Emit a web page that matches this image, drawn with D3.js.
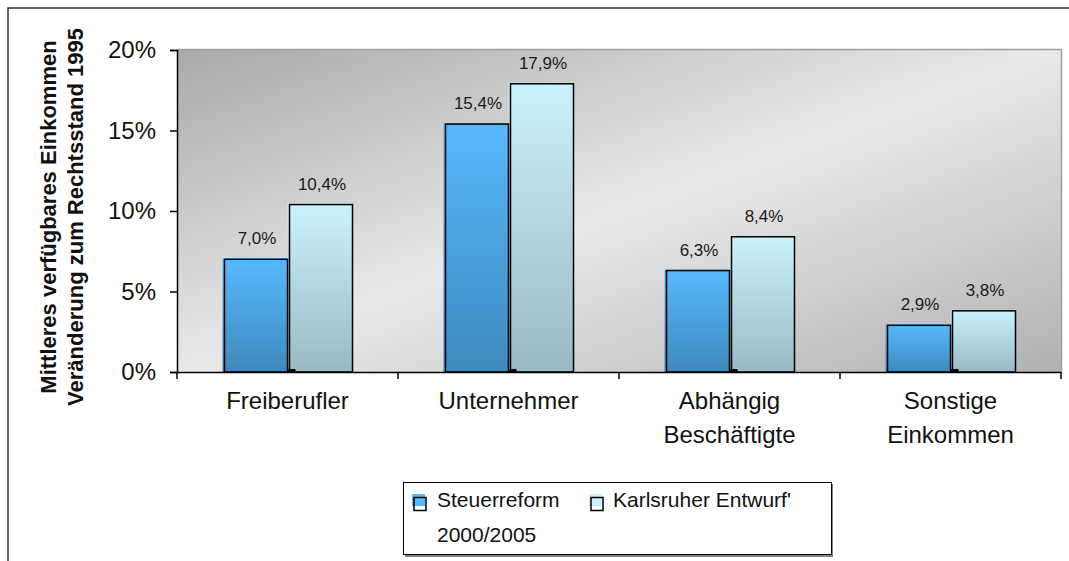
<!DOCTYPE html>
<html>
<head>
<meta charset="utf-8">
<script src="https://cdn.jsdelivr.net/npm/d3@7"></script>
<style>
body { margin: 0; background: #fff; }
svg { display: block; font-family: "Liberation Sans", Arial, sans-serif; }
</style>
</head>
<body>
<svg id="chart" width="1069" height="561"></svg>
<script>
// values
var categories = [["Freiberufler"], ["Unternehmer"], ["Abhängig", "Beschäftigte"], ["Sonstige", "Einkommen"]];
var seriesNames = ["Steuerreform 2000/2005", "Karlsruher Entwurf'"];
var steuerreform = [7.0, 15.4, 6.3, 2.9];
var karlsruher = [10.4, 17.9, 8.4, 3.8];
var yTicks = [0, 5, 10, 15, 20];
var yTitle = ["Mittleres verfügbares Einkommen", "Veränderung zum Rechtsstand 1995"];

var svg = d3.select("#chart");
var plot = { left: 177, right: 1061, top: 50, bottom: 372 };

var de = d3.formatLocale({ decimal: ",", thousands: ".", grouping: [3], currency: ["", "€"] });
var fmt = de.format(".1f");

var catKeys = categories.map(function(c){ return c.join(" "); });
var x0 = d3.scaleBand().domain(catKeys).range([plot.left, plot.right]).padding(0);
var x1 = d3.scaleBand().domain([0, 1]).range([0, x0.bandwidth()]).paddingInner(0).paddingOuter(0.7);
var y = d3.scaleLinear().domain([0, 20]).range([plot.bottom, plot.top]);

var defs = svg.append("defs");
var bg = defs.append("linearGradient").attr("id", "bg")
	.attr("x1", 0).attr("y1", 0).attr("x2", 1).attr("y2", 1);
bg.append("stop").attr("offset", 0).attr("stop-color", "#a9a9a9");
bg.append("stop").attr("offset", 0.5).attr("stop-color", "#e9e9e9");
bg.append("stop").attr("offset", 1).attr("stop-color", "#b1b1b1");

var grads = [["#57bafd", "#3e89bd"], ["#caf2fd", "#99bac3"]];
grads.forEach(function(g, i){
	var lg = defs.append("linearGradient").attr("id", "bar" + i)
		.attr("x1", 0).attr("y1", 0).attr("x2", 0).attr("y2", 1);
	lg.append("stop").attr("offset", 0).attr("stop-color", g[0]);
	lg.append("stop").attr("offset", 1).attr("stop-color", g[1]);
});

// outer frame (only top and left visible)
svg.append("path").attr("d", "M8,561V8H1069")
	.attr("fill", "none").attr("stroke", "#333").attr("stroke-width", 1.5);

// plot area
svg.append("rect")
	.attr("x", plot.left).attr("y", plot.top)
	.attr("width", plot.right - plot.left).attr("height", plot.bottom - plot.top)
	.attr("fill", "url(#bg)");
svg.append("path")
	.attr("d", "M" + plot.left + "," + (plot.top - 0.5) + "H" + (plot.right + 0.5) + "V" + plot.bottom)
	.attr("fill", "none").attr("stroke", "#a0a0a0").attr("stroke-width", 1.5);

// bars
var rows = catKeys.map(function(k, i){
	return { key: k, vals: [steuerreform[i], karlsruher[i]] };
});

var groups = svg.selectAll("g.grp").data(rows).enter().append("g")
	.attr("class", "grp")
	.attr("transform", function(d){ return "translate(" + x0(d.key) + ",0)"; });

groups.selectAll("rect.fill").data(function(d){ return d.vals; }).enter().append("rect")
	.attr("class", "fill")
	.attr("x", function(d, i){ return x1(i); })
	.attr("y", function(d){ return y(d) - 1; })
	.attr("width", x1.bandwidth())
	.attr("height", function(d){ return y(0) - y(d) + 1; })
	.attr("fill", function(d, i){ return "url(#bar" + i + ")"; });

groups.selectAll("rect.edge").data(function(d){ return d.vals; }).enter().append("rect")
	.attr("class", "edge")
	.attr("x", function(d, i){ return x1(i) + 2; })
	.attr("y", function(d){ return y(d); })
	.attr("width", x1.bandwidth() - 2)
	.attr("height", function(d){ return y(0) - y(d); })
	.attr("fill", "none").attr("stroke", "#000").attr("stroke-width", 1.5);

groups.append("rect")
	.attr("x", x0.bandwidth() / 2)
	.attr("y", y(0) - 3)
	.attr("width", 8).attr("height", 3)
	.attr("fill", "#000");

groups.selectAll("text.val").data(function(d){ return d.vals; }).enter().append("text")
	.attr("class", "val")
	.attr("x", function(d, i){ return x1(i) + x1.bandwidth() / 2 + 2; })
	.attr("y", function(d){ return y(d) - 15; })
	.attr("text-anchor", "middle")
	.attr("font-size", 17).attr("fill", "#1a1a1a")
	.text(function(d){ return fmt(d) + "%"; });

// y axis
var yAxis = svg.append("g")
	.attr("transform", "translate(" + plot.left + ",0)")
	.call(d3.axisLeft(y).tickValues(yTicks).tickSize(7).tickPadding(14)
		.tickFormat(function(d){ return d + "%"; }));
yAxis.select(".domain").attr("stroke", "#000").attr("stroke-width", 1.5);
yAxis.selectAll(".tick line").attr("stroke", "#000").attr("stroke-width", 1.5);
yAxis.selectAll(".tick text")
	.attr("font-family", "Liberation Sans, Arial, sans-serif")
	.attr("font-size", 24).attr("fill", "#111");

// x axis
var xAxis = svg.append("g")
	.attr("transform", "translate(0," + plot.bottom + ")")
	.call(d3.axisBottom(x0).tickSize(0).tickFormat(""));
xAxis.select(".domain").attr("stroke", "#000").attr("stroke-width", 1.5);
xAxis.selectAll(".tick").remove();

var bounds = x0.domain().map(function(k){ return x0(k); }).concat([plot.right]);
xAxis.selectAll("line.sep").data(bounds).enter().append("line")
	.attr("class", "sep")
	.attr("x1", function(d){ return d; }).attr("x2", function(d){ return d; })
	.attr("y1", 0).attr("y2", 7)
	.attr("stroke", "#000").attr("stroke-width", 1.5);

var catLabels = svg.selectAll("text.cat").data(categories).enter().append("text")
	.attr("class", "cat")
	.attr("text-anchor", "middle")
	.attr("font-size", 24).attr("fill", "#111");
catLabels.selectAll("tspan").data(function(d, i){
		return d.map(function(t){ return { t: t, k: catKeys[i] }; });
	}).enter().append("tspan")
	.attr("x", function(d){ return x0(d.k) + x0.bandwidth() / 2; })
	.attr("y", function(d, j){ return plot.bottom + 37 + j * 34; })
	.text(function(d){ return d.t; });

// y title
svg.append("text")
	.attr("transform", "translate(56,217) rotate(-90)")
	.attr("text-anchor", "middle")
	.attr("font-size", 22).attr("font-weight", "bold").attr("fill", "#111")
	.selectAll("tspan").data(yTitle).enter().append("tspan")
	.attr("x", 0).attr("y", function(d, i){ return i * 27; })
	.text(function(d){ return d; });

// legend
var leg = svg.append("g");
leg.append("rect").attr("x", 405).attr("y", 484).attr("width", 428).attr("height", 73)
	.attr("fill", "#808080");
leg.append("rect").attr("x", 403.5).attr("y", 482.5).attr("width", 428).attr("height", 72)
	.attr("fill", "#fff").attr("stroke", "#000").attr("stroke-width", 1);

var legItems = [
	{ name: seriesNames[0], x: 412, idx: 0 },
	{ name: seriesNames[1], x: 589, idx: 1 }
];
legItems.forEach(function(it){
	leg.append("rect").attr("x", it.x).attr("y", 494).attr("width", 13).attr("height", 12)
		.attr("fill", grads[it.idx][0]);
	leg.append("rect").attr("x", it.x + 2).attr("y", 497.5).attr("width", 12).attr("height", 13)
		.attr("fill", "none").attr("stroke", "#000").attr("stroke-width", 1.5);
});
leg.append("text").attr("x", 437).attr("y", 507).attr("font-size", 21).attr("fill", "#111")
	.text("Steuerreform");
leg.append("text").attr("x", 437).attr("y", 542).attr("font-size", 21).attr("fill", "#111")
	.text("2000/2005");
leg.append("text").attr("x", 613).attr("y", 507).attr("font-size", 21).attr("fill", "#111")
	.text(seriesNames[1]);
</script>
</body>
</html>
